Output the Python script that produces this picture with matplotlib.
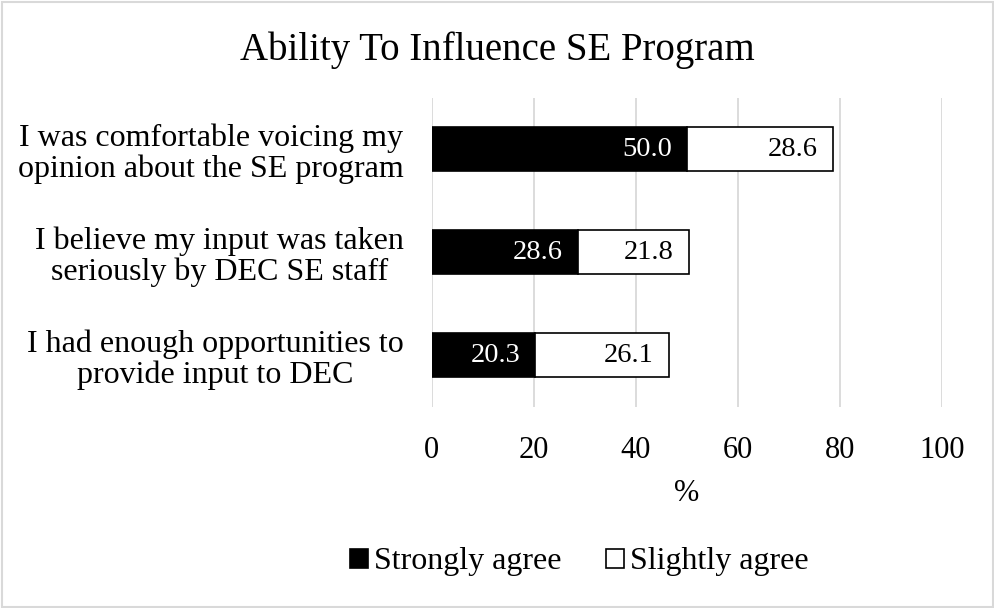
import numpy as np
import matplotlib.pyplot as plt
from matplotlib.patches import Rectangle

plt.rcParams['font.family'] = ['Liberation Serif', 'DejaVu Serif']

categories = ['I was comfortable voicing my\nopinion about the SE program',
              'I believe my input was taken\nseriously by DEC SE staff',
              'I had enough opportunities to\nprovide input to DEC']
strongly = [50.0, 28.6, 20.3]
slightly = [28.6, 21.8, 26.1]
ticks = [0, 20, 40, 60, 80, 100]

fig = plt.figure(figsize=(9.95, 6.08), dpi=100)
ax = fig.add_axes([0.434, 0.331, 0.513, 0.508])

y = np.arange(len(categories))
h = 0.427
b1 = ax.barh(y, strongly, height=h, color='black', edgecolor='black', linewidth=1.2,
             label='Strongly agree')
b2 = ax.barh(y, slightly, left=strongly, height=h, color='white', edgecolor='black',
             linewidth=1.2, label='Slightly agree')

# value labels, inside end of each segment
for i in range(len(categories)):
    ax.annotate('%.1f' % strongly[i], (strongly[i], y[i]), xytext=(-11, 0),
                textcoords='offset points', color='white', ha='right', va='center',
                fontsize=20.5)
    ax.annotate('%.1f' % slightly[i], (strongly[i] + slightly[i], y[i]), xytext=(-11, 0),
                textcoords='offset points', color='black', ha='right', va='center',
                fontsize=20.5)

ax.set_xlim(0, 100)
ax.set_ylim(2.5, -0.5)
ax.set_xticks(ticks)
ax.set_yticks(y)
ax.set_yticklabels(categories, fontsize=23, linespacing=1.07, multialignment='center')
ax.tick_params(axis='x', labelsize=22, length=0, pad=21)
ax.tick_params(axis='y', length=0, pad=20)
ax.grid(axis='x', color='#d9d9d9', linewidth=1.3)
ax.set_axisbelow(True)
for s in ax.spines.values():
    s.set_visible(False)
ax.set_xlabel('%', fontsize=22, labelpad=10)

fig.suptitle('Ability To Influence SE Program', fontsize=28, y=0.949)

leg = fig.legend(handles=[b1, b2], loc='center', bbox_to_anchor=(0.5824, 0.0757),
                 ncol=2, frameon=False, fontsize=23, handlelength=0.55,
                 handleheight=0.55, handletextpad=0.2, columnspacing=1.4)

fig.patches.append(Rectangle((0.002, 0.002), 0.996, 0.994, transform=fig.transFigure,
                             fill=False, edgecolor='#d9d9d9', linewidth=1.5))

fig.savefig('out.png', dpi=100)
